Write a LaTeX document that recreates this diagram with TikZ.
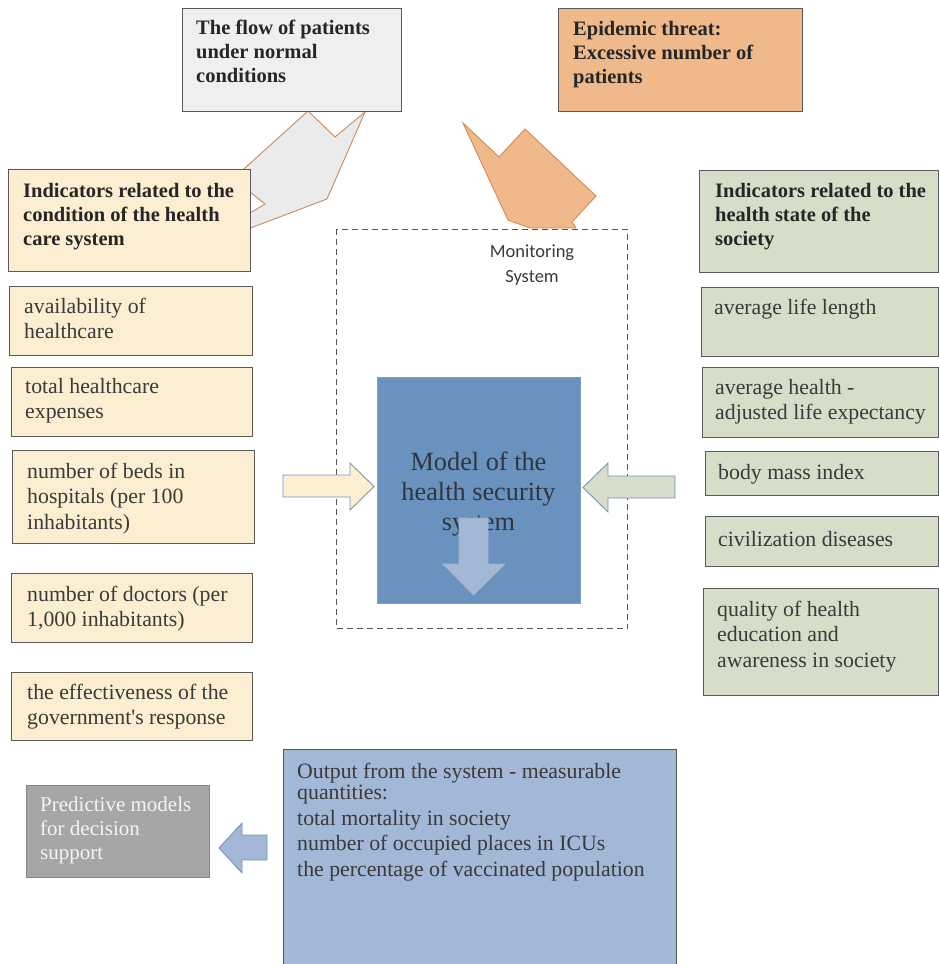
\documentclass[tikz,border=0pt]{standalone}
\usepackage{fontspec}
\setmainfont{Liberation Serif}
\newfontfamily\calib{Carlito}
\definecolor{grayfill}{HTML}{EFEFEF}
\definecolor{orfill}{HTML}{F0B98B}
\definecolor{yelfill}{HTML}{FCEFD1}
\definecolor{grnfill}{HTML}{D6DDC9}
\definecolor{boxline}{HTML}{5A5A5A}
\definecolor{txtc}{HTML}{3A3A3A}
\definecolor{hdrc}{HTML}{262626}
\definecolor{modelfill}{HTML}{6A92BF}
\definecolor{modeledge}{HTML}{7F9DC6}
\definecolor{outfill}{HTML}{A3B7D6}
\definecolor{predfill}{HTML}{A6A6A8}
\definecolor{predtxt}{HTML}{F4F4F4}
\definecolor{arredge}{HTML}{7A93B8}
\definecolor{calledge}{HTML}{C98A5E}
\definecolor{callgray}{HTML}{EBEBEB}
\definecolor{orcalledge}{HTML}{D28A52}
\definecolor{dashc}{HTML}{555555}
\tikzset{
  bx/.style={draw=boxline, line width=0.9pt, anchor=north west, inner sep=0pt},
  txt/.style={anchor=base west, inner sep=0pt, text=txtc, font=\fontsize{21.8}{25.5}\selectfont},
  hdr/.style={anchor=base west, inner sep=0pt, text=hdrc, font=\bfseries\fontsize{20.5}{24}\selectfont},
  arrowshape/.style={draw=arredge, line width=0.9pt, line join=miter},
}
\newcommand\mybox[6]{\node[bx,#2,minimum width={(#5-#3)*1pt},minimum height={(#6-#4)*1pt}] (#1) at (#3,#4) {};}
\newcommand\mytxt[5]{\node[#2] (#1) at (#3,#4) {\parbox[t]{380pt}{#5}};}
\begin{document}
\begin{tikzpicture}[x=1pt,y=-1pt]
\useasboundingbox (0,0) rectangle (939,964);
% callout shapes
\draw[fill=callgray, draw=calledge, line width=0.9pt, line join=miter]
  (308,111) coordinate (g1) -- (335,137) -- (365,112) -- (327,199) -- (240,232) -- (240,219)
  -- (265,204) -- (240,184) -- (240,172.5) -- cycle;
\draw[fill=orfill, draw=orcalledge, line width=0.9pt, line join=miter]
  (463,123) coordinate (o1) -- (499,157) -- (525,129) -- (596,196) -- (572,222) -- (576,228)
  -- (530,228) -- (508,220) -- cycle;
% monitoring system
\node[draw=dashc, dash pattern=on 6pt off 4pt, line width=1.2pt, anchor=north west, inner sep=0pt,
  minimum width=291pt, minimum height=399pt] (mon) at (336,229) {};
\node[inner sep=0pt, align=center, text=txtc, font=\calib\fontsize{18.5}{25}\selectfont] (montxt) at (532,265) {Monitoring\\System};
% top boxes
\mybox{flow}{fill=grayfill}{182}{8}{401}{111}
\mytxt{flowt}{hdr}{196}{34}{The flow of patients\\under normal\\conditions}
\mybox{epi}{fill=orfill}{558}{8}{802}{111}
\mytxt{epit}{hdr}{573}{35}{Epidemic threat:\\Excessive number of\\patients}
% left column
\mybox{lh}{fill=yelfill}{8}{169}{250}{271}
\mytxt{lht}{hdr}{23}{197}{Indicators related to the\\condition of the health\\care system}
\mybox{l1}{fill=yelfill}{9}{286}{252}{355}
\mytxt{l1t}{txt}{24}{313}{availability of\\healthcare}
\mybox{l2}{fill=yelfill}{11}{367}{252}{436}
\mytxt{l2t}{txt}{25}{393}{total healthcare\\expenses}
\mybox{l3}{fill=yelfill}{12}{450}{254}{543}
\mytxt{l3t}{txt}{27}{478}{number of beds in\\hospitals (per 100\\inhabitants)}
\mybox{l4}{fill=yelfill}{11}{573}{252}{642}
\mytxt{l4t}{txt}{27}{601}{number of doctors (per\\1,000 inhabitants)}
\mybox{l5}{fill=yelfill}{11}{672}{252}{740}
\mytxt{l5t}{txt}{27}{699}{the effectiveness of the\\government\textquotesingle s response}
% right column
\mybox{rh}{fill=grnfill}{699}{170}{937.5}{272}
\mytxt{rht}{hdr}{715}{197}{Indicators related to the\\health state of the\\society}
\mybox{r1}{fill=grnfill}{701}{287}{937.5}{356}
\mytxt{r1t}{txt}{714}{314}{average life length}
\mybox{r2}{fill=grnfill}{702}{367}{937.5}{437}
\mytxt{r2t}{txt}{715}{394}{average health -\\adjusted life expectancy}
\mybox{r3}{fill=grnfill}{705}{451}{937.5}{495}
\mytxt{r3t}{txt}{718}{479}{body mass index}
\mybox{r4}{fill=grnfill}{705}{516}{937.5}{566}
\mytxt{r4t}{txt}{718}{546}{civilization diseases}
\mybox{r5}{fill=grnfill}{703}{588}{937.5}{695}
\mytxt{r5t}{txt}{717}{616}{quality of health\\education and\\awareness in society}
% model
\node[fill=modelfill, draw=modeledge, line width=0.9pt, anchor=north west, inner sep=0pt,
  minimum width=203pt, minimum height=226pt] (model) at (377,377) {};
\node[inner sep=0pt, align=center, text=hdrc!85!modelfill, font=\fontsize{26.3}{30}\selectfont] (modelt) at (478.5,494) {Model of the\\health security\\system};
% bottom
\mybox{out}{fill=outfill}{283}{749}{676}{972}
\mytxt{outt}{txt}{297}{778}{Output from the system - measurable\\[-4pt]quantities:\\total mortality in society\\number of occupied places in ICUs\\the percentage of vaccinated population}
\mybox{pred}{fill=predfill, draw=predfill!80!black}{26}{785}{209}{877}
\mytxt{predt}{txt, text=predtxt, font=\fontsize{21}{24}\selectfont}{40}{811}{Predictive models\\for decision\\support}
% arrows
\draw[arrowshape, fill=yelfill] (283,475) coordinate (ya) -- (350,475) -- (350,463) -- (374,486.5) -- (350,510) -- (350,497) -- (283,497) -- cycle;
\draw[arrowshape, fill=grnfill] (675,476) coordinate (ga) -- (608,476) -- (608,463) -- (583,487.5) -- (608,512) -- (608,498) -- (675,498) -- cycle;
\draw[draw=arredge!70!white, line width=0.9pt, fill=outfill] (459,518) coordinate (da) -- (488,518) -- (488,564) -- (505,564) -- (473.5,595) -- (443,564) -- (459,564) -- cycle;
\draw[arrowshape, fill=outfill] (267,835) coordinate (ba) -- (242,835) -- (242,823) -- (219,848) -- (242,873) -- (242,860) -- (267,860) -- cycle;
\end{tikzpicture}
\end{document}
